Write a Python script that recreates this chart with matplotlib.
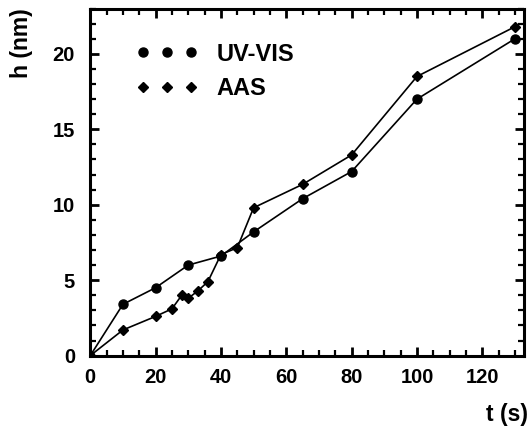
import matplotlib.pyplot as plt
from matplotlib.lines import Line2D
from matplotlib.ticker import MultipleLocator

plt.rcParams['font.family'] = ['Liberation Sans', 'DejaVu Sans']
plt.rcParams['font.weight'] = 'bold'

# UV-VIS measurements
t_uv = [0, 10, 20, 30, 40, 50, 65, 80, 100, 130]
h_uv = [0, 3.4, 4.5, 6.0, 6.6, 8.2, 10.4, 12.2, 17.0, 21.0]

# AAS measurements
t_aas = [0, 10, 20, 25, 28, 30, 33, 36, 40, 45, 50, 65, 80, 100, 130]
h_aas = [0, 1.7, 2.6, 3.1, 4.0, 3.8, 4.3, 4.9, 6.7, 7.15, 9.8, 11.35, 13.3, 18.5, 21.8]

fig = plt.figure(figsize=(5.31, 4.30), dpi=100)
ax = fig.add_axes([0.170, 0.173, 0.817, 0.807])

ax.plot(t_uv, h_uv, color="black", linewidth=1.2, marker="o", markersize=6.5)
ax.plot(t_aas, h_aas, color="black", linewidth=1.2, marker="D", markersize=5.5)

ax.set_xlim(0, 132.8)
ax.set_ylim(0, 23)
ax.xaxis.set_major_locator(MultipleLocator(20))
ax.xaxis.set_minor_locator(MultipleLocator(5))
ax.yaxis.set_major_locator(MultipleLocator(5))
ax.yaxis.set_minor_locator(MultipleLocator(1))

ax.tick_params(which="both", direction="in", top=True, right=True, labelsize=14.5)
ax.tick_params(which="major", length=6.5, width=2)
ax.tick_params(which="minor", length=4.3, width=1.6)
ax.tick_params(axis="x", pad=9)
ax.tick_params(axis="y", pad=11)
for s in ax.spines.values():
    s.set_linewidth(2.2)

ax.set_xlabel("t (s)", fontsize=16.5, fontweight="bold")
ax.xaxis.set_label_coords(1.009, -0.17)
ax.xaxis.label.set_ha("right")
ax.xaxis.label.set_va("center")

ax.set_ylabel("h (nm)", fontsize=16.5, fontweight="bold")
ax.yaxis.set_label_coords(-0.158, 1.0)
ax.yaxis.label.set_rotation_mode("anchor")
ax.yaxis.label.set_ha("right")
ax.yaxis.label.set_va("center")

handles = [
    Line2D([], [], color="black", linestyle="none", marker="o", markersize=6.5),
    Line2D([], [], color="black", linestyle="none", marker="D", markersize=5),
]
ax.legend(handles, ["UV-VIS", "AAS"], numpoints=3, frameon=False, loc="upper left",
          bbox_to_anchor=(0.079, 0.936), borderpad=0, fontsize=17, handlelength=2.63,
          handletextpad=0.76, labelspacing=0.5)

fig.savefig("out.png", dpi=100)
